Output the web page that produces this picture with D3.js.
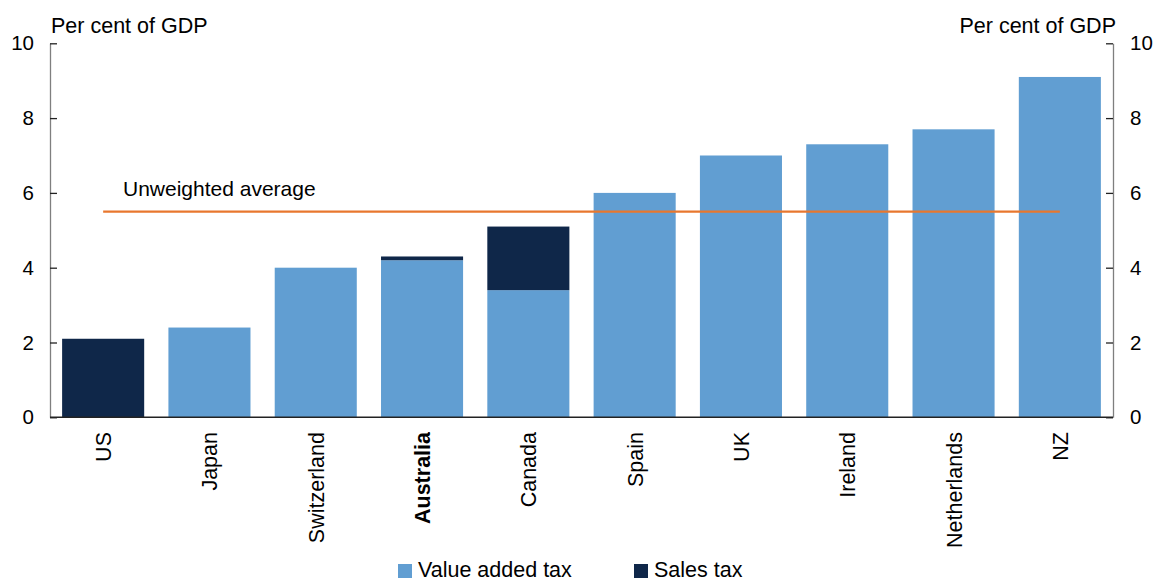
<!DOCTYPE html>
<html>
<head>
<meta charset="utf-8">
<script src="https://cdn.jsdelivr.net/npm/d3@7"></script>
<style>
  html, body { margin: 0; padding: 0; background: #fff; }
  text { font-family: "Liberation Sans", Arial, sans-serif; fill: #000; }
</style>
</head>
<body>
<svg id="chart" width="1153" height="581"></svg>
<script>
// Consumption tax revenue by country, per cent of GDP
const countries = ["US", "Japan", "Switzerland", "Australia", "Canada", "Spain", "UK", "Ireland", "Netherlands", "NZ"];
const valueAddedTax = [0, 2.4, 4.0, 4.2, 3.4, 6.0, 7.0, 7.3, 7.7, 9.1];
const salesTax = [2.1, 0, 0, 0.1, 1.7, 0, 0, 0, 0, 0];
const unweightedAverage = 5.5;
const yTicks = [0, 2, 4, 6, 8, 10];
const seriesNames = ["Value added tax", "Sales tax"];
const highlighted = "Australia";

const colors = { vat: "#619ED2", sales: "#0F2749", avg: "#E8772E", axis: "#7f7f7f" };
const fontSize = 21.5;

const svg = d3.select("#chart");
const plotLeft = 50, plotRight = 1113, plotTop = 43.3, plotBottom = 417.3;

const x = d3.scaleBand().domain(countries).range([plotLeft, plotRight]).paddingInner(0.228).paddingOuter(0.114);
const y = d3.scaleLinear().domain([0, 10]).range([plotBottom, plotTop]);

const rows = countries.map((c, i) => ({ country: c, vat: valueAddedTax[i], sales: salesTax[i] }));
const stacked = d3.stack().keys(["vat", "sales"])(rows);

svg.append("g").selectAll("g")
  .data(stacked)
  .join("g")
  .attr("fill", d => d.key === "vat" ? colors.vat : colors.sales)
  .selectAll("rect")
  .data(d => d.filter(s => s[1] - s[0] > 0))
  .join("rect")
  .attr("x", d => x(d.data.country))
  .attr("width", x.bandwidth())
  .attr("y", d => y(d[1]))
  .attr("height", d => y(d[0]) - y(d[1]));

// Average line from the first to the last bar centre
const first = countries[0], last = countries[countries.length - 1];
svg.append("line")
  .attr("x1", x(first) + x.bandwidth() / 2)
  .attr("x2", x(last) + x.bandwidth() / 2)
  .attr("y1", y(unweightedAverage))
  .attr("y2", y(unweightedAverage))
  .attr("stroke", colors.avg)
  .attr("stroke-width", 2.2);

svg.append("text")
  .attr("x", 123)
  .attr("y", y(unweightedAverage) - 16)
  .attr("font-size", 21)
  .text("Unweighted average");

// Axes
const yLeft = d3.axisLeft(y).tickValues(yTicks).tickSize(-7).tickPadding(16).tickSizeOuter(0);
const yRight = d3.axisRight(y).tickValues(yTicks).tickSize(-7).tickPadding(17).tickSizeOuter(0);

function styleAxis(g) {
  g.select(".domain").attr("stroke", colors.axis).attr("stroke-width", 1.3);
  g.selectAll(".tick line").attr("stroke", "#222").attr("stroke-width", 1.3);
  g.selectAll(".tick text").attr("font-size", 20.5).attr("font-family", "Liberation Sans, Arial, sans-serif").attr("fill", "#000");
}

svg.append("g").attr("transform", `translate(${plotLeft},0)`).call(yLeft).call(styleAxis);
svg.append("g").attr("transform", `translate(${plotRight},0)`).call(yRight).call(styleAxis);

// Zero baseline
svg.append("line")
  .attr("x1", plotLeft).attr("x2", plotRight)
  .attr("y1", y(0)).attr("y2", y(0))
  .attr("stroke", "#222").attr("stroke-width", 1.5);

// Category labels, rotated
svg.append("g").selectAll("text")
  .data(countries)
  .join("text")
  .attr("transform", d => `translate(${x(d) + x.bandwidth() / 2 + 8},432) rotate(-90)`)
  .attr("text-anchor", "end")
  .attr("font-size", fontSize)
  .attr("font-weight", d => d === highlighted ? "bold" : "normal")
  .text(d => d);

// Unit labels
svg.append("text").attr("x", 51).attr("y", 33).attr("font-size", fontSize).text("Per cent of GDP");
svg.append("text").attr("x", 1116).attr("y", 33).attr("text-anchor", "end").attr("font-size", fontSize).text("Per cent of GDP");

// Legend
const legend = svg.append("g");
const legendX = [398, 634];
seriesNames.forEach((name, i) => {
  legend.append("rect")
    .attr("x", legendX[i]).attr("y", 564)
    .attr("width", 14).attr("height", 14)
    .attr("fill", i === 0 ? colors.vat : colors.sales);
  legend.append("text")
    .attr("x", legendX[i] + 20).attr("y", 577)
    .attr("font-size", fontSize)
    .text(name);
});
</script>
</body>
</html>
